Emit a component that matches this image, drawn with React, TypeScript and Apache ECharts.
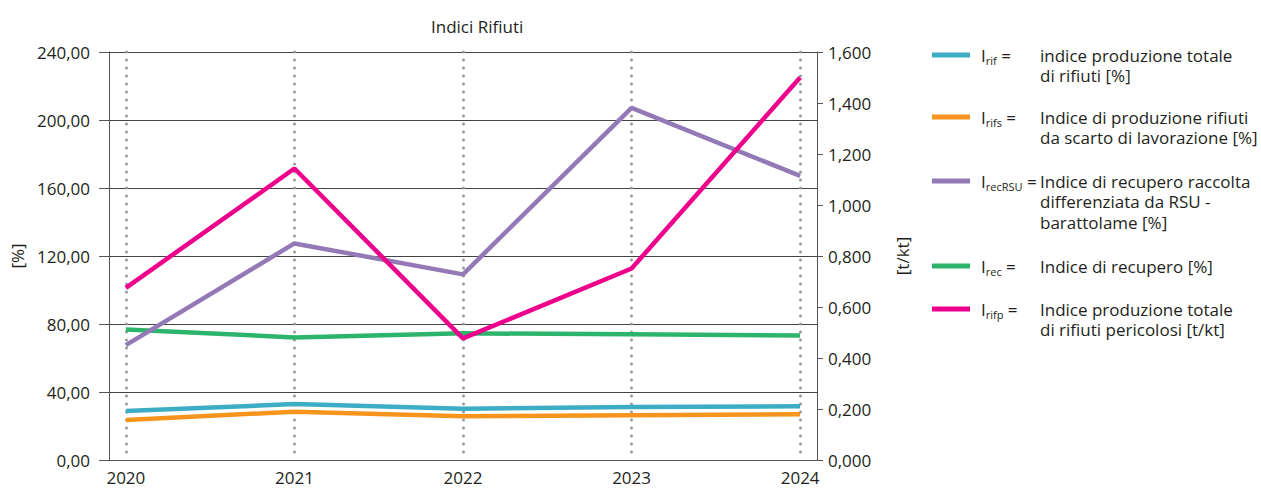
import React, { useEffect, useRef } from "react";
import * as echarts from "echarts";

const years = [2020, 2021, 2022, 2023, 2024];
const iRif = [28.8, 32.9, 30.2, 31.2, 31.6];
const iRifs = [23.5, 28.4, 25.7, 26.3, 26.9];
const iRecRSU = [67.6, 127.4, 109.2, 207.1, 167.1];
const iRec = [76.8, 72.1, 74.5, 73.9, 73.3];
const iRifp = [0.675, 1.143, 0.477, 0.751, 1.5];

const title = "Indici Rifiuti";
const leftAxisName = "[%]";
const rightAxisName = "[t/kt]";

const legendSubs = ["rif", "rifs", "recRSU", "rec", "rifp"];
const legendDescs = [
  "indice produzione totale\ndi rifiuti [%]",
  "Indice di produzione rifiuti\nda scarto di lavorazione [%]",
  "Indice di recupero raccolta\ndifferenziata da RSU -\nbarattolame [%]",
  "Indice di recupero [%]",
  "Indice produzione totale\ndi rifiuti pericolosi [t/kt]",
];
const colors = ["#3DADC5", "#F7941D", "#9479B7", "#2DB46B", "#EC008C"];

const FONT = "'Open Sans', sans-serif";
const TXT = "#231f20";

export default function App() {
  const ref = useRef<HTMLDivElement>(null);
  useEffect(() => {
    if (!ref.current) return;
    const chart = echarts.init(ref.current, null, { renderer: "svg" });
    const pair = (arr: number[]) => years.map((y, i) => [y, arr[i]]);
    const legendRowsY = [55, 117, 181, 266, 309];
    const LH = 20.5;
    const graphic: any[] = [];
    legendSubs.forEach((sub, i) => {
      const y = legendRowsY[i];
      graphic.push({
        type: "line",
        shape: { x1: 932, y1: y, x2: 970, y2: y },
        style: { stroke: colors[i], lineWidth: 5 },
      });
      graphic.push({
        type: "text",
        x: 981,
        y: y,
        style: {
          text: `{i|I}{s|${sub}}{e| =}`,
          verticalAlign: "middle",
          fill: TXT,
          fontFamily: FONT,
          rich: {
            i: { fontSize: 17, lineHeight: 22, fontFamily: FONT, fill: TXT },
            s: { fontSize: 11, lineHeight: 14, verticalAlign: "bottom", fontFamily: FONT, fill: TXT },
            e: { fontSize: 17, lineHeight: 22, fontFamily: FONT, fill: TXT },
          },
        },
      });
      graphic.push({
        type: "text",
        x: 1040,
        y: y - LH / 2,
        style: {
          text: legendDescs[i],
          fontSize: 17,
          lineHeight: LH,
          fontFamily: FONT,
          fill: TXT,
          verticalAlign: "top",
        },
      });
    });

    const lineSeries = (name: string, data: number[], color: string, yAxisIndex = 0) => ({
      name,
      type: "line",
      yAxisIndex,
      data: pair(data),
      symbol: "none",
      lineStyle: { color, width: 4.5 },
      itemStyle: { color },
    });

    chart.setOption({
      animation: false,
      title: {
        text: title,
        left: 426,
        top: 13,
        textStyle: { fontFamily: FONT, fontSize: 17, fontWeight: "normal", color: TXT },
      },
      grid: { left: 109, right: 444, top: 52, bottom: 30, containLabel: false },
      xAxis: {
        type: "value",
        min: 2019.9,
        max: 2024.1,
        axisLine: { show: true, lineStyle: { color: "#555", width: 1 } },
        axisTick: { show: false, customValues: years },
        axisLabel: {
          customValues: years,
          formatter: (v: number) => String(Math.round(v)),
          fontFamily: FONT,
          fontSize: 17,
          lineHeight: 17,
          color: TXT,
          margin: 9,
        },
        splitLine: {
          show: true,
          lineStyle: { color: "#999", width: 3, type: [0, 8], cap: "round" },
        },
      },
      yAxis: [
        {
          type: "value",
          min: 0,
          max: 240,
          interval: 40,
          name: leftAxisName,
          nameLocation: "middle",
          nameRotate: 90,
          nameGap: 80,
          nameTextStyle: { fontFamily: FONT, fontSize: 17, color: TXT },
          axisLine: { show: true, lineStyle: { color: "#555", width: 1 } },
          axisTick: { show: true, length: 10, lineStyle: { color: "#555" } },
          axisLabel: {
            formatter: (v: number) => v.toFixed(2).replace(".", ","),
            fontFamily: FONT,
            fontSize: 17,
            color: TXT,
            margin: 19,
          },
          splitLine: { show: true, lineStyle: { color: "#444", width: 1 } },
        },
        {
          type: "value",
          position: "right",
          min: 0,
          max: 1.6,
          interval: 0.2,
          name: rightAxisName,
          nameLocation: "middle",
          nameRotate: 90,
          nameGap: 77,
          nameTextStyle: { fontFamily: FONT, fontSize: 17, color: TXT },
          axisLine: { show: true, lineStyle: { color: "#555", width: 1 } },
          axisTick: { show: true, length: 6, lineStyle: { color: "#555" } },
          axisLabel: {
            formatter: (v: number) => v.toFixed(3).replace(".", ","),
            fontFamily: FONT,
            fontSize: 17,
            color: TXT,
            margin: 11,
          },
          splitLine: { show: false },
        },
      ],
      series: [
        lineSeries("Irif", iRif, colors[0]),
        lineSeries("Irifs", iRifs, colors[1]),
        lineSeries("Irec", iRec, colors[3]),
        lineSeries("IrecRSU", iRecRSU, colors[2]),
        lineSeries("Irifp", iRifp, colors[4], 1),
      ],
      graphic,
    });
    return () => chart.dispose();
  }, []);
  return (
    <div
      ref={ref}
      style={{ position: "absolute", left: 0, top: 0, width: 1261, height: 490 }}
    />
  );
}
